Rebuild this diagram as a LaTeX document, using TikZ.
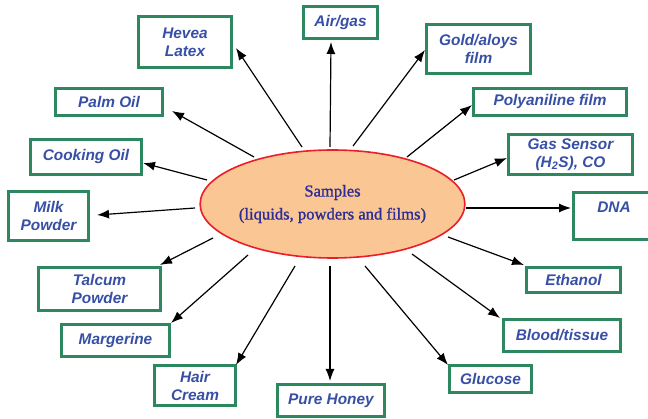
\documentclass[tikz,border=0pt]{standalone}
\usepackage{fontspec}
\usetikzlibrary{arrows.meta,shapes.geometric}
\newfontfamily\boxfont{Liberation Sans}
\newfontfamily\titlefont[FakeBold=1.2]{Liberation Serif}
\definecolor{boxgreen}{RGB}{45,135,95}
\definecolor{boxblue}{RGB}{55,80,165}
\definecolor{titleblue}{RGB}{45,45,150}
\definecolor{peach}{RGB}{250,198,148}
\definecolor{ellred}{RGB}{235,30,40}
\tikzset{
  smpbox/.style={draw=boxgreen, line width=2.8pt, fill=white, align=center,
    inner sep=0pt, text=boxblue,
    font=\boxfont\bfseries\itshape\fontsize{15.4}{18}\selectfont},
  arr/.style={line width=1.2pt, -{Latex[length=12pt,width=9pt]}}
}
\newcommand{\bx}[6]{% name, cx, cy, w, h, text
  \node[smpbox, minimum width=#4pt-2.8pt, minimum height=#5pt-2.8pt] (#1) at (#2,#3) {#6};}
\begin{document}
\begin{tikzpicture}[x=1pt,y=-1pt]
\useasboundingbox (0,0) rectangle (648,419);
\clip (0,0) rectangle (648,419);
\fill[white] (0,0) rectangle (648,419);

% central ellipse
\node[draw=ellred, line width=1.6pt, fill=peach, ellipse, minimum width=259pt, minimum height=108pt,
  inner sep=0pt, align=center, text=titleblue,
  font=\titlefont\fontsize{16.6}{23}\selectfont] (S) at (332.5,204) {Samples\\(liquids, powders and films)};

% boxes
\bx{hev}{185}{42}{96}{54}{Hevea\\Latex}
\bx{air}{340.5}{22.5}{77}{35}{Air/gas}
\bx{gold}{478.5}{49}{107}{52}{Gold/aloys\\film}
\bx{poly}{550}{102}{156}{30}{Polyaniline film}
\bx{gas}{570.5}{154.5}{127}{43}{Gas Sensor\\(H\textsubscript{2}S), CO}
\bx{dna}{614}{216}{84}{50}{DNA\\\mbox{}}
\bx{eth}{573.5}{280}{97}{28}{Ethanol}
\bx{blood}{562}{335.5}{120}{35}{Blood/tissue}
\bx{glu}{490.5}{379}{85}{30}{Glucose}
\bx{honey}{331}{400.5}{110}{35}{Pure Honey}
\bx{hair}{195}{385.5}{84}{43}{Hair\\Cream}
\bx{marg}{115.5}{340.5}{111}{35}{Margerine}
\bx{talc}{99.5}{289}{125}{46}{Talcum\\Powder}
\bx{milk}{48.5}{216}{83}{52}{Milk\\Powder}
\bx{cook}{86}{157}{114}{38}{Cooking Oil}
\bx{palm}{109}{102}{110}{30}{Palm Oil}

% start points of connectors, on the ellipse
\coordinate (s1) at (302,147);
\coordinate (s2) at (330,147);
\coordinate (s3) at (353,146);
\coordinate (s4) at (407,157);
\coordinate (s5) at (454,180);
\coordinate (s6) at (466,208);
\coordinate (s7) at (448,237);
\coordinate (s8) at (412,254);
\coordinate (s9) at (365,266);
\coordinate (s10) at (330,266);
\coordinate (s11) at (295,266);
\coordinate (s12) at (248,255);
\coordinate (s13) at (213,238);
\coordinate (s14) at (195,208);
\coordinate (s15) at (207,180);
\coordinate (s16) at (254,157);

\draw[arr] (s1) -- ([shift={(3,6)}]hev.east);
\draw[arr] (s2) -- ([shift={(-9.5,2)}]air.south);
\draw[arr] (s3) -- ([shift={(0,1)}]gold.west);
\draw[arr] (s4) -- ([shift={(0,3)}]poly.west);
\draw[arr] (s5) -- ([shift={(0,3.5)}]gas.west);
\draw[arr] (s6) -- ([shift={(-1,-8)}]dna.west);
\draw[arr] (s7) -- ([shift={(-1,-1)}]eth.north west);
\draw[arr] (s8) -- ([shift={(-2,0)}]blood.north west);
\draw[arr] (s9) -- ([shift={(0,1)}]glu.north west);
\draw[arr] (s10) -- ([shift={(-1,-2)}]honey.north);
\draw[arr] (s11) -- ([shift={(-1,1)}]hair.north east);
\draw[arr] (s12) -- (marg.north east);
\draw[arr] (s13) -- ([shift={(-2,-1)}]talc.north east);
\draw[arr] (s14) -- ([shift={(7,-1)}]milk.east);
\draw[arr] (s15) -- ([shift={(0,6)}]cook.east);
\draw[arr] (s16) -- ([shift={(8,-6)}]palm.south east);
\end{tikzpicture}
\end{document}
